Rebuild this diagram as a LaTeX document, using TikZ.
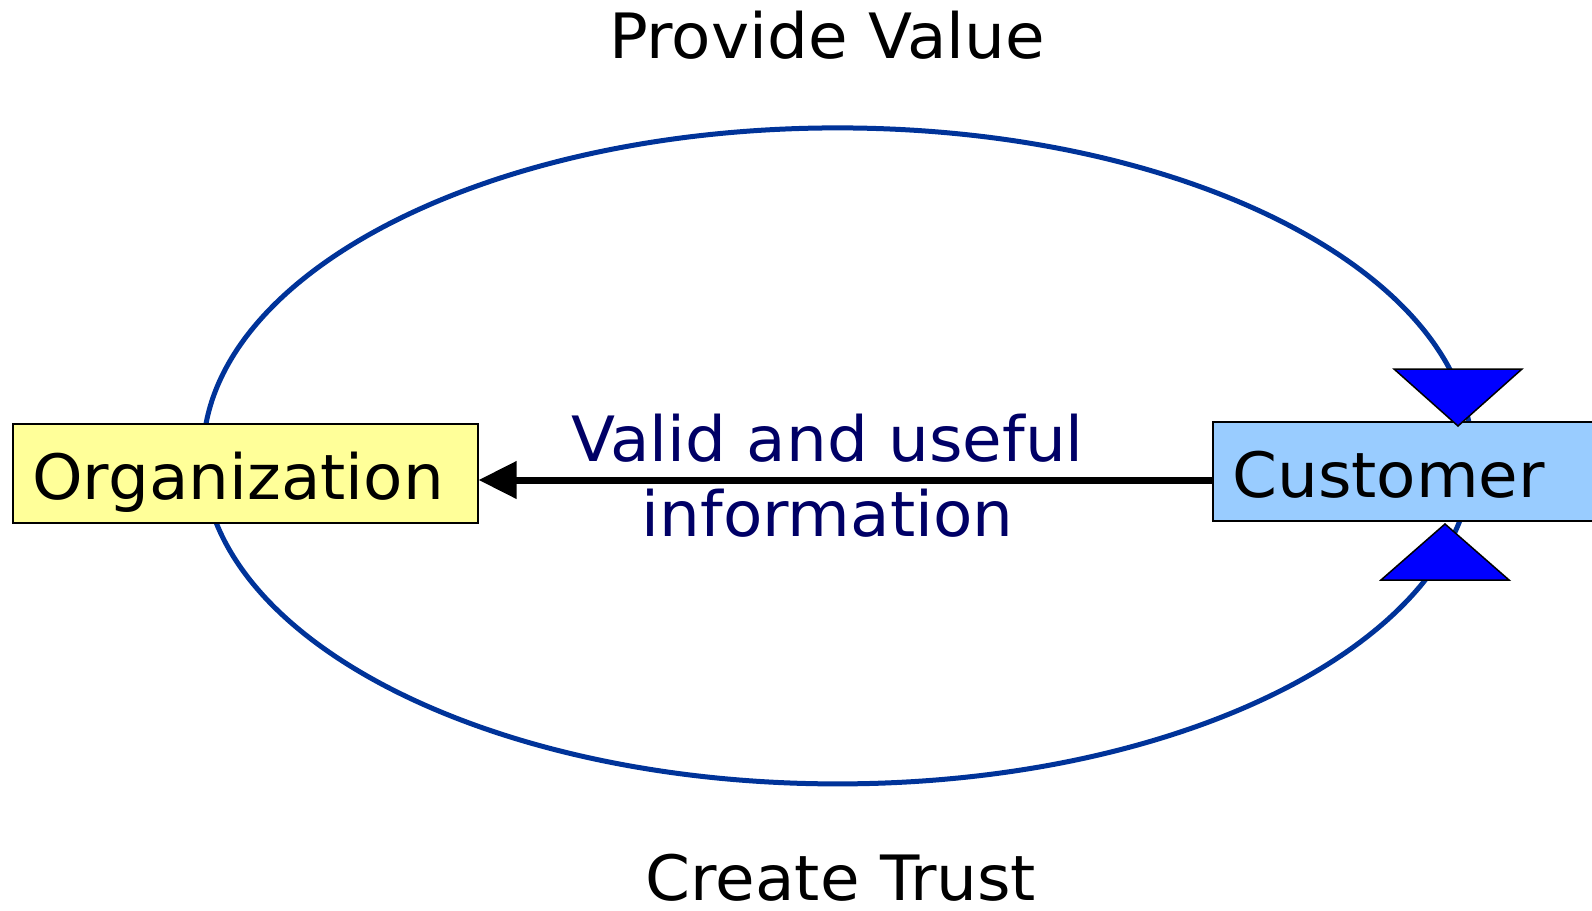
\documentclass[tikz,border=0pt]{standalone}
\usepackage{fontspec}
\setmainfont{DejaVu Sans}[FakeStretch=1.03]
\usetikzlibrary{arrows.meta}
\definecolor{loopblue}{RGB}{0,51,153}
\definecolor{orgfill}{RGB}{255,255,153}
\definecolor{custfill}{RGB}{153,204,255}
\definecolor{tipblue}{RGB}{0,0,255}
\definecolor{labelnavy}{RGB}{0,0,102}

\begin{document}
\begin{tikzpicture}[x=1pt,y=-1pt,
  every node/.style={font=\fontsize{62.5}{75}\selectfont},
  entity/.style={draw=black, line width=1.5pt, anchor=north west,
    inner xsep=19.5pt, inner ysep=0pt, text height=76pt, text depth=23pt, align=left},
  cycleloop/.style={draw=loopblue, line width=5pt},
  marker/.style={fill=tipblue, draw=black, line width=1.5pt, line join=miter},
  flow/.style={line width=7pt, -{Triangle[length=38pt,width=36pt]}},
  caption/.style={anchor=base, inner sep=0pt}]
\useasboundingbox (0,0) rectangle (1592,910);
\clip (0,0) rectangle (1592,910);

% value / trust cycle
\draw[cycleloop] (837.6,455.9) ellipse [x radius=634.6, y radius=328];

% the two parties
\node[entity, fill=orgfill, text width=426pt] (org) at (12,423) {Organization};
\node[entity, fill=custfill, text width=361pt] (cust) at (1212,421) {Customer};

% information flowing back to the organization
\coordinate (flowy) at (0,480);
\draw[flow] (cust.west |- flowy) -- (org.east |- flowy);
\node[text=labelnavy, align=center, inner sep=0pt] (info) at (827.5,475.75) {Valid and useful\\information};

% direction markers on the cycle
\filldraw[marker] (1394,369) -- (1522,369) -- (1458,426) -- cycle;
\filldraw[marker] (1381,580) -- (1509,580) -- (1445,524) -- cycle;

% cycle captions
\node[caption] (value) at (827,58.5) {Provide Value};
\node[caption] (trust) at (841,900) {Create Trust};
\end{tikzpicture}
\end{document}
